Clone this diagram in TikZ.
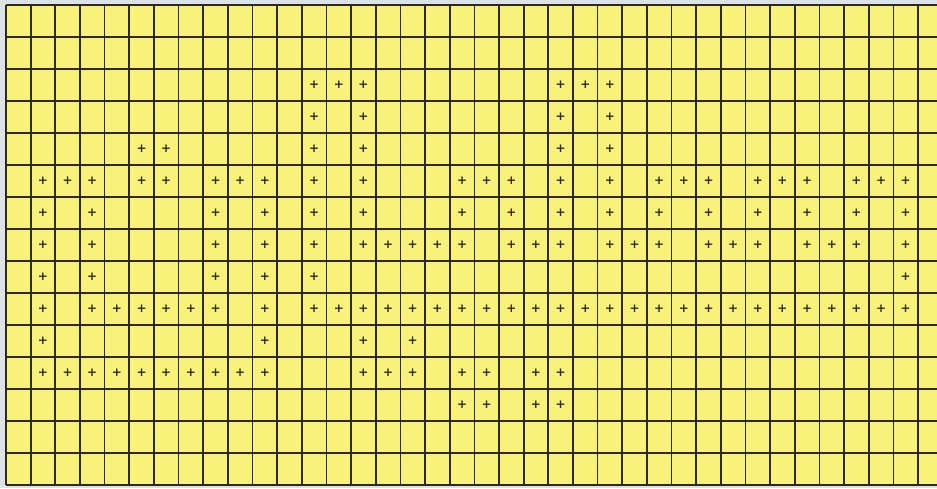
\documentclass[tikz,border=0pt]{standalone}
\usepackage{tikz}
\usepackage{fontspec}
\newfontfamily\plusfont{DejaVu Sans}

\definecolor{paper}{HTML}{F9F27A}
\definecolor{gridline}{HTML}{2E2A1A}
\definecolor{backing}{HTML}{DCE3E8}

\begin{document}
\begin{tikzpicture}[
    x=1pt, y=-1pt,
    plusmark/.style={font=\plusfont\bfseries\fontsize{12}{12}\selectfont, text=gridline, inner sep=0pt},
    gridrule/.style={draw=gridline, line width=1.7pt},
]

% === Sheet and grid (15 rows, columns run off the right edge) ===
\def\cellW{24.65}
\def\cellH{32}
\def\gx{6}
\def\gy{5}
\def\nRows{15}

\fill[backing] (0,0) rectangle (937,488);
\useasboundingbox (0,0) rectangle (937,488);
\fill[paper] (\gx,\gy) rectangle (937,{\gy+\nRows*\cellH});

% vertical rules
\foreach \k in {0,...,37} {
    \draw[gridrule] ({\gx+\k*\cellW},\gy) -- ({\gx+\k*\cellW},{\gy+\nRows*\cellH});
}
% horizontal rules
\foreach \k in {0,...,15} {
    \draw[gridrule] (\gx,{\gy+\k*\cellH}) -- (937,{\gy+\k*\cellH});
}

% === Marked cells: row / list of columns ===
\foreach \r/\cols in {
    2/{12,13,14,22,23,24},
    3/{12,14,22,24},
    4/{5,6,12,14,22,24},
    5/{1,2,3,5,6,8,9,10,12,14,18,19,20,22,24,26,27,28,30,31,32,34,35,36},
    6/{1,3,8,10,12,14,18,20,22,24,26,28,30,32,34,36},
    7/{1,3,8,10,12,14,15,16,17,18,20,21,22,24,25,26,28,29,30,32,33,34,36},
    8/{1,3,8,10,12,36},
    9/{1,3,4,5,6,7,8,10,12,13,...,36},
    10/{1,10,14,16},
    11/{1,2,...,10,14,15,16,18,19,21,22},
    12/{18,19,21,22}} {
    \foreach \c in \cols {
        \node[plusmark] (p\r-\c) at ({\gx+(\c+0.5)*\cellW},{\gy+(\r+0.5)*\cellH}) {+};
    }
}

\end{tikzpicture}
\end{document}
